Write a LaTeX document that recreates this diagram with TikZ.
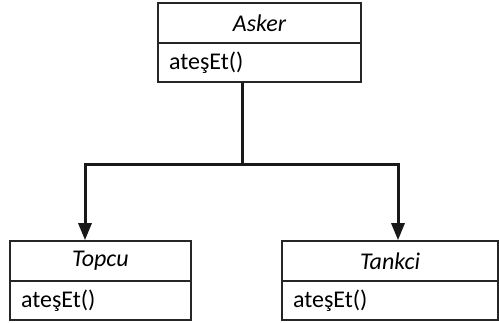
\documentclass[tikz,border=0pt]{standalone}
\usepackage{fontspec}
\setmainfont{Carlito}
\usetikzlibrary{arrows.meta}
\tikzset{
  namebox/.style={draw=black!85, line width=1.6pt, rectangle, inner sep=0pt, font=\fontsize{24}{27}\selectfont\itshape},
  methbox/.style={draw=black!85, line width=1.6pt, rectangle, inner xsep=11pt, inner ysep=0pt, align=left, font=\fontsize{24}{27}\selectfont},
  conn/.style={draw=black!90, line width=3pt},
  arr/.style={conn, -{Triangle[width=13pt,length=17pt]}},
}
\begin{document}
\begin{tikzpicture}[x=1pt,y=-1pt]
\useasboundingbox (0,0) rectangle (499,323);
% Asker
\node[namebox, minimum width=203pt, minimum height=40pt] (asker) at (259.5,23) {Asker};
\node[methbox, minimum height=39pt, text width=181pt] (askerm) at (259.5,62.5) {ateşEt()};
% Topcu
\node[namebox, minimum width=181pt, minimum height=40pt] (topcu) at (100.5,261) {Topcu};
\node[methbox, minimum height=39pt, text width=159pt] (topcum) at (100.5,300.5) {ateşEt()};
% Tankci
\node[namebox, minimum width=216pt, minimum height=40pt] (tankci) at (390,261) {Tankci};
\node[methbox, minimum height=39pt, text width=194pt] (tankcim) at (390,300.5) {ateşEt()};
% connectors
\coordinate (split) at (242,165);
\coordinate (lj) at (85,165);
\coordinate (rj) at (398,165);
\draw[conn] (askerm.south -| split) -- (split);
\draw[conn, line cap=rect] (lj) -- (rj);
\draw[arr] (lj) -- (lj |- topcu.north);
\draw[arr] (rj) -- (rj |- tankci.north);
\end{tikzpicture}
\end{document}
